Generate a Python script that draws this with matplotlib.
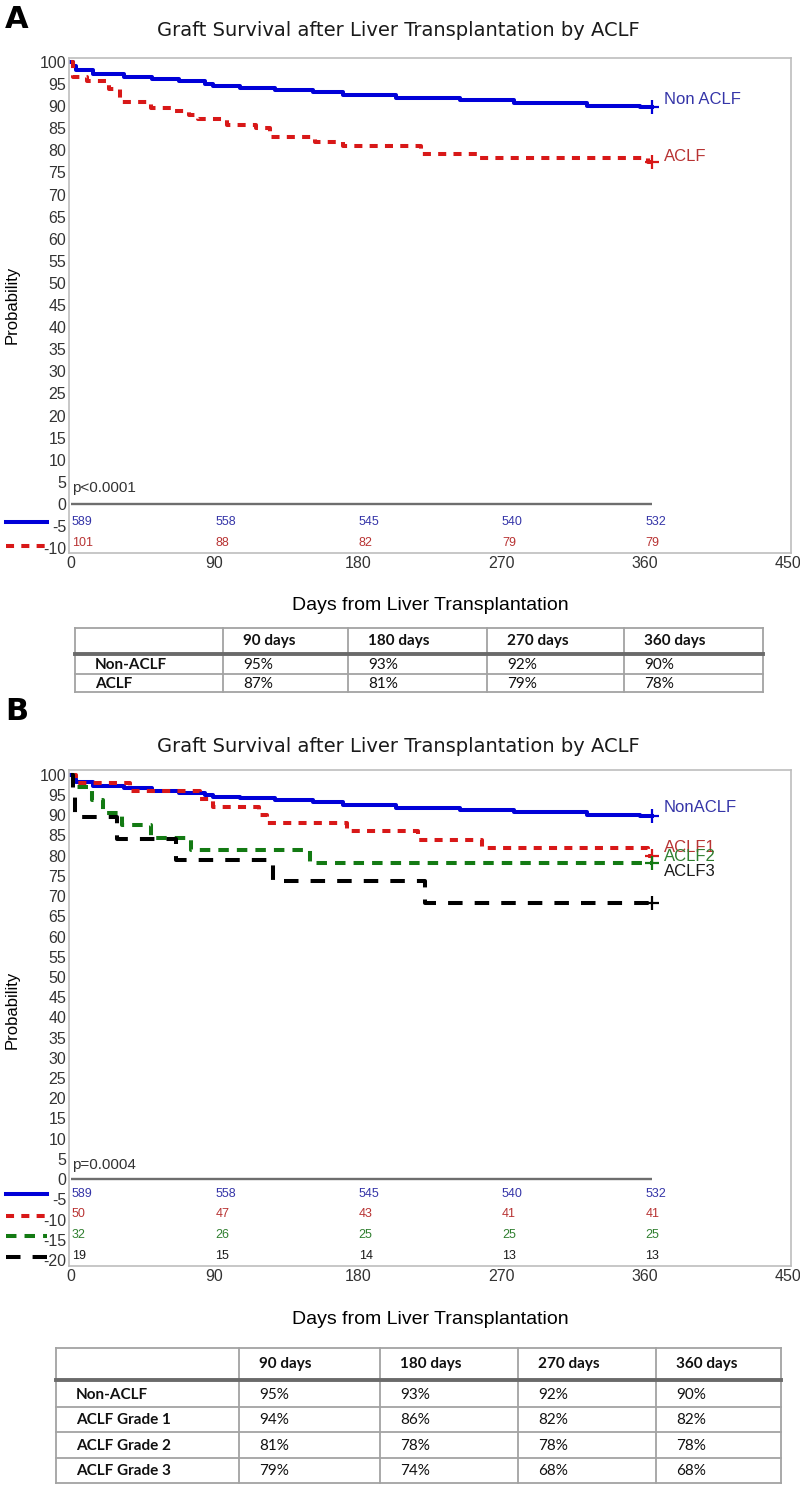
import matplotlib
matplotlib.use('Agg')
import matplotlib.pyplot as plt
from matplotlib.lines import Line2D
from matplotlib import font_manager

plt.rcParams['axes.unicode_minus'] = False

# ---------------- data ----------------
# Non-ACLF (same cohort in both panels)
nonaclf_t = [0, 1, 3, 14, 33, 51, 68, 84, 89, 106, 128, 152, 171, 204, 244, 278, 324, 357, 365]
nonaclf_s = [100, 99, 98.2, 97.3, 96.7, 96.1, 95.6, 95.0, 94.6, 94.2, 93.7, 93.2, 92.5, 91.8, 91.3, 90.7, 90.1, 89.8, 89.8]
# Panel A: ACLF
aclf_t = [0, 1, 10, 24, 31, 50, 65, 74, 80, 98, 116, 125, 153, 171, 220, 257, 362, 365]
aclf_s = [100, 96.7, 95.7, 93.8, 91.0, 89.5, 88.8, 88.0, 87.0, 85.7, 85.0, 83.1, 82.0, 81.0, 79.2, 78.2, 77.4, 77.4]

# Panel B: ACLF grades
aclf1_t = [0, 3, 37, 81, 89, 118, 123, 173, 218, 258, 362, 365]
aclf1_s = [100, 98, 96, 94, 92, 90, 88, 86, 84, 82, 80, 80]
aclf2_t = [0, 1, 13, 20, 32, 50, 75, 150, 365]
aclf2_s = [100, 96.9, 93.8, 90.6, 87.5, 84.4, 81.3, 78.1, 78.1]
aclf3_t = [0, 1, 2.5, 29, 66, 127, 222, 365]
aclf3_s = [100, 94.7, 89.5, 84.2, 78.9, 73.7, 68.4, 68.4]

risk_days = [0, 90, 180, 270, 360]
risk_nonaclf = [589, 558, 545, 540, 532]
risk_aclf_A = [101, 88, 82, 79, 79]
risk_aclf1 = [50, 47, 43, 41, 41]
risk_aclf2 = [32, 26, 25, 25, 25]
risk_aclf3 = [19, 15, 14, 13, 13]

x_ticks = [0, 90, 180, 270, 360, 450]

tableA_header = ["", "90 days", "180 days", "270 days", "360 days"]
tableA_rows = ["Non-ACLF", "ACLF"]
tableA_vals = [["95%", "93%", "92%", "90%"],
               ["87%", "81%", "79%", "78%"]]
tableB_header = ["", "90 days", "180 days", "270 days", "360 days"]
tableB_rows = ["Non-ACLF", "ACLF Grade 1", "ACLF Grade 2", "ACLF Grade 3"]
tableB_vals = [["95%", "93%", "92%", "90%"],
               ["94%", "86%", "82%", "82%"],
               ["81%", "78%", "78%", "78%"],
               ["79%", "74%", "68%", "68%"]]

title = "Graft Survival after Liver Transplantation by ACLF"
xlabel = "Days from Liver Transplantation"

# ---------------- style ----------------
names = {f.name for f in font_manager.fontManager.ttflist}
SANS = 'Liberation Sans' if 'Liberation Sans' in names else 'DejaVu Sans'
TBL = 'Lato' if 'Lato' in names else 'DejaVu Sans'

C_BLUE, C_RED, C_GREEN, C_BLACK = '#0000d8', '#d81818', '#137a13', '#000000'
T_BLUE, T_RED, T_GREEN, T_BLACK = '#3535a8', '#b83333', '#2f7f2f', '#1a1a1a'

W, H = 800, 1487
fig = plt.figure(figsize=(8, 14.87), dpi=100)
ov = fig.add_axes([0, 0, 1, 1])
ov.set_xlim(0, W)
ov.set_ylim(H, 0)
ov.axis('off')

AX_L, AX_R = 69, 791


def km_panel(top, bottom, ylo, yhi, series, risks, risk_ys, pval):
    ax = fig.add_axes([AX_L / W, 1 - bottom / H, (AX_R - AX_L) / W, (bottom - top) / H])
    ax.set_xlim(-1.3, 452)
    ax.set_ylim(ylo, yhi)
    for sp in ax.spines.values():
        sp.set_color('#bdbdbd')
        sp.set_linewidth(1.2)
    ax.set_xticks(x_ticks)
    yt = list(range(100, int(ylo) - 1, -5))
    ax.set_yticks(yt)
    ax.tick_params(length=0, labelsize=11.5, labelcolor='#333333', pad=2)
    for lab in ax.get_xticklabels() + ax.get_yticklabels():
        lab.set_family(SANS)
    ax.plot([0, 365], [0, 0], color='#6e6e6e', lw=1.7, solid_capstyle='butt')
    for (t, s, col, tcol, dashes, lw, label, ly) in series:
        line, = ax.step(t, s, color=col, lw=lw, where='post')
        if dashes is not None:
            line.set_dashes(dashes)
        ax.plot([t[-1]], [s[-1]], marker='+', ms=10, mew=1.6, color=col)
        ax.text(372, ly, label, color=tcol, fontsize=12, family=SANS, va='center', ha='left')
    for (vals, tcol), ry in zip(risks, risk_ys):
        for d, n in zip(risk_days, vals):
            ax.text(d + 0.5, ry, str(n), color=tcol, fontsize=9, family=SANS,
                    va='center', ha='left')
    ax.text(0.5, 3.6, pval, fontsize=11, family=SANS, color='#333333', va='center', ha='left')
    return ax


# ---------- Panel A ----------
ov.text(5, 19, "A", fontsize=22, fontweight='bold', family='DejaVu Sans', va='center', ha='left')
ov.text(398, 31, title, fontsize=14, family='DejaVu Sans', va='center', ha='center', color='#1a1a1a')
seriesA = [
    (nonaclf_t, nonaclf_s, C_BLUE, T_BLUE, None, 2.9, "Non ACLF", 91.6),
    (aclf_t, aclf_s, C_RED, T_RED, (2.0, 1.8), 2.9, "ACLF", 78.6),
]
axA = km_panel(58, 553, -11.1, 100.9, seriesA,
               [(risk_nonaclf, T_BLUE), (risk_aclf_A, T_RED)], [-4.0, -8.8], "p<0.0001")
ov.text(12, 305, "Probability", rotation=90, fontsize=12, family=SANS, va='center', ha='center')
ov.text(430, 605, xlabel, fontsize=14, family=SANS, va='center', ha='center')

for y, col, dashes in [(522, C_BLUE, None), (546, C_RED, (2.0, 1.8))]:
    ln = Line2D([6, 47], [y, y], color=col, lw=2.9)
    if dashes:
        ln.set_dashes(dashes)
    ov.add_line(ln)

# ---------- Panel B ----------
ov.text(5, 711, "B", fontsize=22, fontweight='bold', family='DejaVu Sans', va='center', ha='left')
ov.text(398, 747, title, fontsize=14, family='DejaVu Sans', va='center', ha='center', color='#1a1a1a')
seriesB = [
    (nonaclf_t, nonaclf_s, C_BLUE, T_BLUE, None, 2.9, "NonACLF", 91.9),
    (aclf1_t, aclf1_s, C_RED, T_RED, (2.0, 1.8), 2.9, "ACLF1", 82.0),
    (aclf2_t, aclf2_s, C_GREEN, T_GREEN, (2.6, 2.0), 2.9, "ACLF2", 79.9),
    (aclf3_t, aclf3_s, C_BLACK, T_BLACK, (3.6, 3.0), 2.9, "ACLF3", 76.2),
]
axB = km_panel(770, 1266, -21.5, 101.2, seriesB,
               [(risk_nonaclf, T_BLUE), (risk_aclf1, T_RED), (risk_aclf2, T_GREEN), (risk_aclf3, T_BLACK)],
               [-3.7, -8.7, -13.9, -19.0], "p=0.0004")
ov.text(12, 1010, "Probability", rotation=90, fontsize=12, family=SANS, va='center', ha='center')
ov.text(430, 1320, xlabel, fontsize=14, family=SANS, va='center', ha='center')

for y, col, dashes in [(1194, C_BLUE, None), (1216, C_RED, (2.0, 1.8)),
                       (1236, C_GREEN, (2.6, 2.0)), (1257, C_BLACK, (3.6, 3.0))]:
    ln = Line2D([6, 47], [y, y], color=col, lw=2.9)
    if dashes:
        ln.set_dashes(dashes)
    ov.add_line(ln)


# ---------- tables ----------
def draw_table(cols, top, head_bot, row_h, header, rows, vals):
    nrows = len(rows)
    bottom = head_bot + 3 + row_h * nrows
    grey = '#a3a3a3'
    for x in cols:
        ov.add_line(Line2D([x, x], [top, bottom], color=grey, lw=1.3))
    ov.add_line(Line2D([cols[0], cols[-1]], [top, top], color=grey, lw=1.3))
    ov.add_line(Line2D([cols[0], cols[-1]], [bottom, bottom], color=grey, lw=1.3))
    ov.add_line(Line2D([cols[0], cols[-1]], [head_bot + 1.5, head_bot + 1.5], color='#6a6a6a', lw=2.8))
    for r in range(1, nrows):
        y = head_bot + 3 + row_h * r
        ov.add_line(Line2D([cols[0], cols[-1]], [y, y], color=grey, lw=1.3))
    hy = (top + head_bot) / 2
    for j, h in enumerate(header):
        ov.text(cols[j] + 20, hy + 1, h, fontsize=11, fontweight='bold', family=TBL,
                va='center', ha='left', color='#111111')
    for i, name in enumerate(rows):
        cy = head_bot + 3 + row_h * (i + 0.5) + 1
        ov.text(cols[0] + 20, cy, name, fontsize=11, fontweight='bold', family=TBL,
                va='center', ha='left', color='#111111')
        for j, v in enumerate(vals[i]):
            ov.text(cols[j + 1] + 20, cy, v, fontsize=11, family=TBL,
                    va='center', ha='left', color='#111111')


draw_table([75, 223, 348, 487, 624, 763], 628, 652, 18.5, tableA_header, tableA_rows, tableA_vals)
draw_table([56, 239, 380, 518, 656, 781], 1348, 1378, 25.5, tableB_header, tableB_rows, tableB_vals)

fig.savefig('out.png', dpi=100, facecolor='white')
